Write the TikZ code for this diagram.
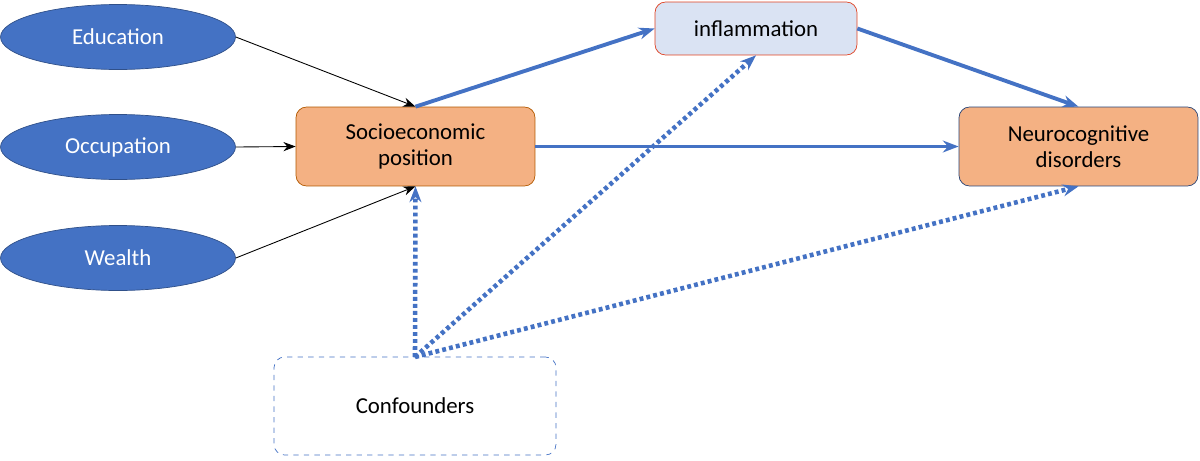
\documentclass[tikz,border=0pt]{standalone}
\usepackage{fontspec}
\setmainfont{Carlito}
\usetikzlibrary{arrows.meta,shapes.geometric}
\definecolor{myblue}{HTML}{4472C4}
\definecolor{myorange}{HTML}{F4B183}
\definecolor{mylight}{HTML}{DAE3F3}
\begin{document}
\begin{tikzpicture}[x=0.02cm,y=-0.02cm,
  every node/.style={font=\fontsize{13}{15}\selectfont, align=center},
  oval/.style={ellipse, fill=myblue, draw=myblue!70!black, text=white, minimum width=4.7cm, minimum height=1.3cm, inner sep=0pt},
  box/.style={rounded corners=6pt, minimum width=4.78cm, minimum height=1.58cm},
  thin arrow/.style={-{Stealth[length=7pt]}, black, line width=0.5pt},
  main arrow/.style={-{Stealth[length=9pt]}, myblue, line width=2.2pt},
  conf arrow/.style={-{Stealth[length=9pt]}, myblue, line width=2.6pt, dash pattern=on 2.2pt off 1.8pt}]
\useasboundingbox (0,0) rectangle (1200,460);
\node[oval] (edu) at (118,37) {Education};
\node[oval] (occ) at (118,147) {Occupation};
\node[oval] (wea) at (118,258) {Wealth};
\node[box, fill=myorange, draw=orange!70!black] (sep) at (415.5,146.5) {Socioeconomic\\position};
\node[box, fill=mylight, draw=red!50!brown, minimum width=4.04cm, minimum height=1.06cm] (inf) at (756,28.5) {inflammation};
\node[box, fill=myorange, draw=myblue!60!black] (neu) at (1078.5,146.5) {Neurocognitive\\disorders};
\node[box, draw=myblue, dashed, minimum width=5.64cm, minimum height=1.96cm] (con) at (415,406) {Confounders};
\draw[thin arrow] (edu.east) -- (sep.north);
\draw[thin arrow] (occ.east) -- (sep.west);
\draw[thin arrow] (wea.east) -- (sep.south);
\draw[main arrow] (sep.north) -- (inf.west);
\draw[main arrow] (inf.east) -- (neu.north);
\draw[main arrow] (sep.east) -- (neu.west);
\coordinate (ct) at (415,357);
\draw[conf arrow] (ct) -- (sep.south);
\draw[conf arrow] (ct) -- (inf.south);
\draw[conf arrow] (ct) -- (neu.south);
\end{tikzpicture}
\end{document}
